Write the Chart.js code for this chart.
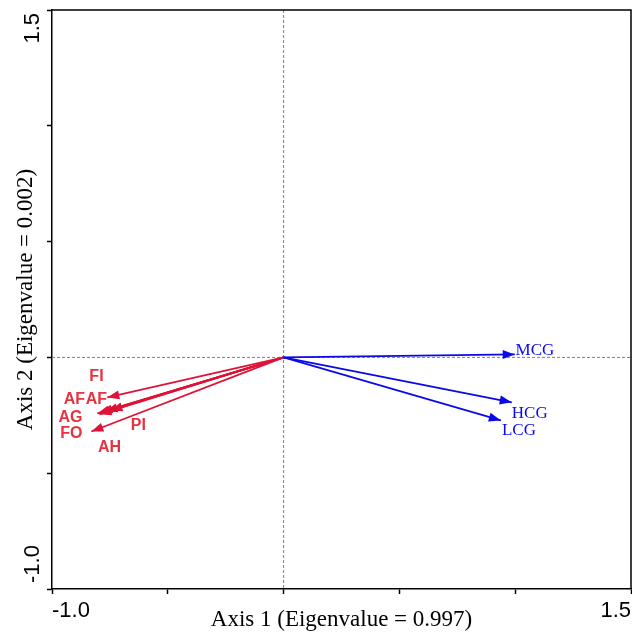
<!DOCTYPE html>
<html lang="en">
<head>
  <meta charset="UTF-8" />
  <title>Biplot</title>
  <script src="https://cdn.jsdelivr.net/npm/chart.js"></script>
  <style>
    html, body { margin: 0; padding: 0; background: #fff; }
    canvas { display: block; }
  </style>
</head>
<body>
  <canvas id="biplot" width="632" height="633"></canvas>

  <script>
    // red variables (arrow tips and label positions, axis units)
    const redNames  = ['FI', 'AF', 'AF', 'AG', 'PI', 'AH', 'FO'];
    const redX      = [-0.761, -0.748, -0.769, -0.791, -0.804, -0.795, -0.830];
    const redY      = [-0.173, -0.229, -0.233, -0.238, -0.242, -0.246, -0.320];
    const redLabelX = [-0.808, -0.903, -0.808, -0.920, -0.627, -0.752, -0.916];
    const redLabelY = [-0.082, -0.182, -0.182, -0.259, -0.294, -0.389, -0.328];

    // blue variables
    const blueNames  = ['MCG', 'HCG', 'LCG'];
    const blueX      = [0.998, 0.985, 0.938];
    const blueY      = [0.013, -0.194, -0.272];
    const blueLabelX = [1.085, 1.063, 1.016];
    const blueLabelY = [0.030, -0.242, -0.315];

    // axes
    const axisMin = -1.0;
    const axisMax = 1.5;
    const tickStep = 0.5;
    const xTitle = 'Axis 1 (Eigenvalue = 0.997)';
    const yTitle = 'Axis 2 (Eigenvalue = 0.002)';

    const RED = '#dc1438';
    const RED_TEXT = '#e5333f';
    const BLUE = '#0a0ae8';
    const SANS = "'Liberation Sans', Arial, sans-serif";
    const SERIF = "'Liberation Serif', 'Times New Roman', serif";

    function arrowSet(name, x, y, lx, ly, color, textColor, font) {
      return {
        label: name,
        data: [{ x: 0, y: 0 }, { x: x, y: y }],
        showLine: true,
        borderColor: color,
        backgroundColor: color,
        borderWidth: 1.8,
        pointRadius: 0,
        labelX: lx,
        labelY: ly,
        textColor: textColor,
        textFont: font
      };
    }

    const datasets = [];
    blueNames.forEach((n, i) => {
      datasets.push(arrowSet(n, blueX[i], blueY[i], blueLabelX[i], blueLabelY[i], BLUE, BLUE, '17px ' + SERIF));
    });
    redNames.forEach((n, i) => {
      datasets.push(arrowSet(n, redX[i], redY[i], redLabelX[i], redLabelY[i], RED, RED_TEXT, 'bold 16px ' + SANS));
    });

    function endLabel(value, index, ticks) {
      return (index === 0 || index === ticks.length - 1) ? value.toFixed(1) : '';
    }

    const biplotPlugin = {
      id: 'biplot',
      beforeDatasetsDraw(chart) {
        // dashed zero lines
        const { ctx, chartArea: a, scales: { x, y } } = chart;
        const x0 = x.getPixelForValue(0);
        const y0 = y.getPixelForValue(0);
        ctx.save();
        ctx.strokeStyle = '#808080';
        ctx.lineWidth = 1;
        ctx.setLineDash([3, 2]);
        ctx.beginPath();
        ctx.moveTo(x0, a.top);
        ctx.lineTo(x0, a.bottom);
        ctx.moveTo(a.left, y0);
        ctx.lineTo(a.right, y0);
        ctx.stroke();
        ctx.restore();
      },
      afterDatasetsDraw(chart) {
        const { ctx, scales: { x, y } } = chart;
        chart.data.datasets.forEach((ds, i) => {
          const pts = chart.getDatasetMeta(i).data;
          const p0 = pts[0], p1 = pts[1];
          const ang = Math.atan2(p1.y - p0.y, p1.x - p0.x);
          const len = 12, half = 4.5;
          ctx.save();
          ctx.fillStyle = ds.borderColor;
          ctx.translate(p1.x, p1.y);
          ctx.rotate(ang);
          ctx.beginPath();
          ctx.moveTo(0, 0);
          ctx.lineTo(-len, -half);
          ctx.lineTo(-len, half);
          ctx.closePath();
          ctx.fill();
          ctx.restore();

          ctx.save();
          ctx.fillStyle = ds.textColor;
          ctx.font = ds.textFont;
          ctx.textAlign = 'center';
          ctx.textBaseline = 'middle';
          ctx.fillText(ds.label, x.getPixelForValue(ds.labelX), y.getPixelForValue(ds.labelY));
          ctx.restore();
        });
      },
      afterDraw(chart) {
        const { ctx, chartArea: a, scales: { y } } = chart;
        // top and right frame
        ctx.save();
        ctx.strokeStyle = '#000';
        ctx.lineWidth = 1.5;
        ctx.beginPath();
        ctx.moveTo(a.left, a.top);
        ctx.lineTo(a.right, a.top);
        ctx.lineTo(a.right, a.bottom);
        ctx.stroke();
        ctx.restore();

        // rotated end labels on the y axis
        const ticks = y.ticks;
        ctx.save();
        ctx.fillStyle = '#000';
        ctx.font = '22px ' + SANS;
        ctx.textBaseline = 'middle';
        ticks.forEach((t, i) => {
          const txt = endLabel(t.value, i, ticks);
          if (!txt) return;
          const py = y.getPixelForValue(t.value);
          ctx.save();
          ctx.translate(33, i === 0 ? py - 6 : py + 3);
          ctx.rotate(-Math.PI / 2);
          ctx.textAlign = i === 0 ? 'left' : 'right';
          ctx.fillText(txt, 0, 0);
          ctx.restore();
        });
        ctx.restore();
      }
    };

    new Chart(document.getElementById('biplot'), {
      type: 'scatter',
      data: { datasets: datasets },
      plugins: [biplotPlugin],
      options: {
        responsive: false,
        animation: false,
        layout: { padding: { top: 10, right: 1, left: 0, bottom: 0 } },
        plugins: {
          legend: { display: false },
          tooltip: { enabled: false }
        },
        scales: {
          x: {
            type: 'linear',
            min: axisMin,
            max: axisMax,
            afterFit: s => { s.height = 44; s.paddingLeft = 0; s.paddingRight = 0; },
            ticks: {
              stepSize: tickStep,
              autoSkip: false,
              maxRotation: 0,
              align: 'inner',
              padding: 4,
              color: '#000',
              font: { family: SANS, size: 22 },
              callback: endLabel
            },
            grid: { drawOnChartArea: false, drawTicks: true, tickLength: 5, tickColor: '#000', tickWidth: 1.5 },
            border: { color: '#000', width: 1.5 },
            title: {
              display: true,
              text: xTitle,
              color: '#000',
              font: { family: SERIF, size: 23, lineHeight: 1.1 },
              padding: { top: 0, bottom: 0 }
            }
          },
          y: {
            type: 'linear',
            min: axisMin,
            max: axisMax,
            afterFit: s => { s.width = 52; s.paddingTop = 0; s.paddingBottom = 0; },
            ticks: {
              stepSize: tickStep,
              autoSkip: false,
              display: false,
              callback: endLabel
            },
            grid: { drawOnChartArea: false, drawTicks: true, tickLength: 5, tickColor: '#000', tickWidth: 1.5 },
            border: { color: '#000', width: 1.5 },
            title: {
              display: true,
              text: yTitle,
              color: '#000',
              font: { family: SERIF, size: 23, lineHeight: 1.1 },
              padding: { top: 13, bottom: 0 }
            }
          }
        }
      }
    });
  </script>
</body>
</html>
